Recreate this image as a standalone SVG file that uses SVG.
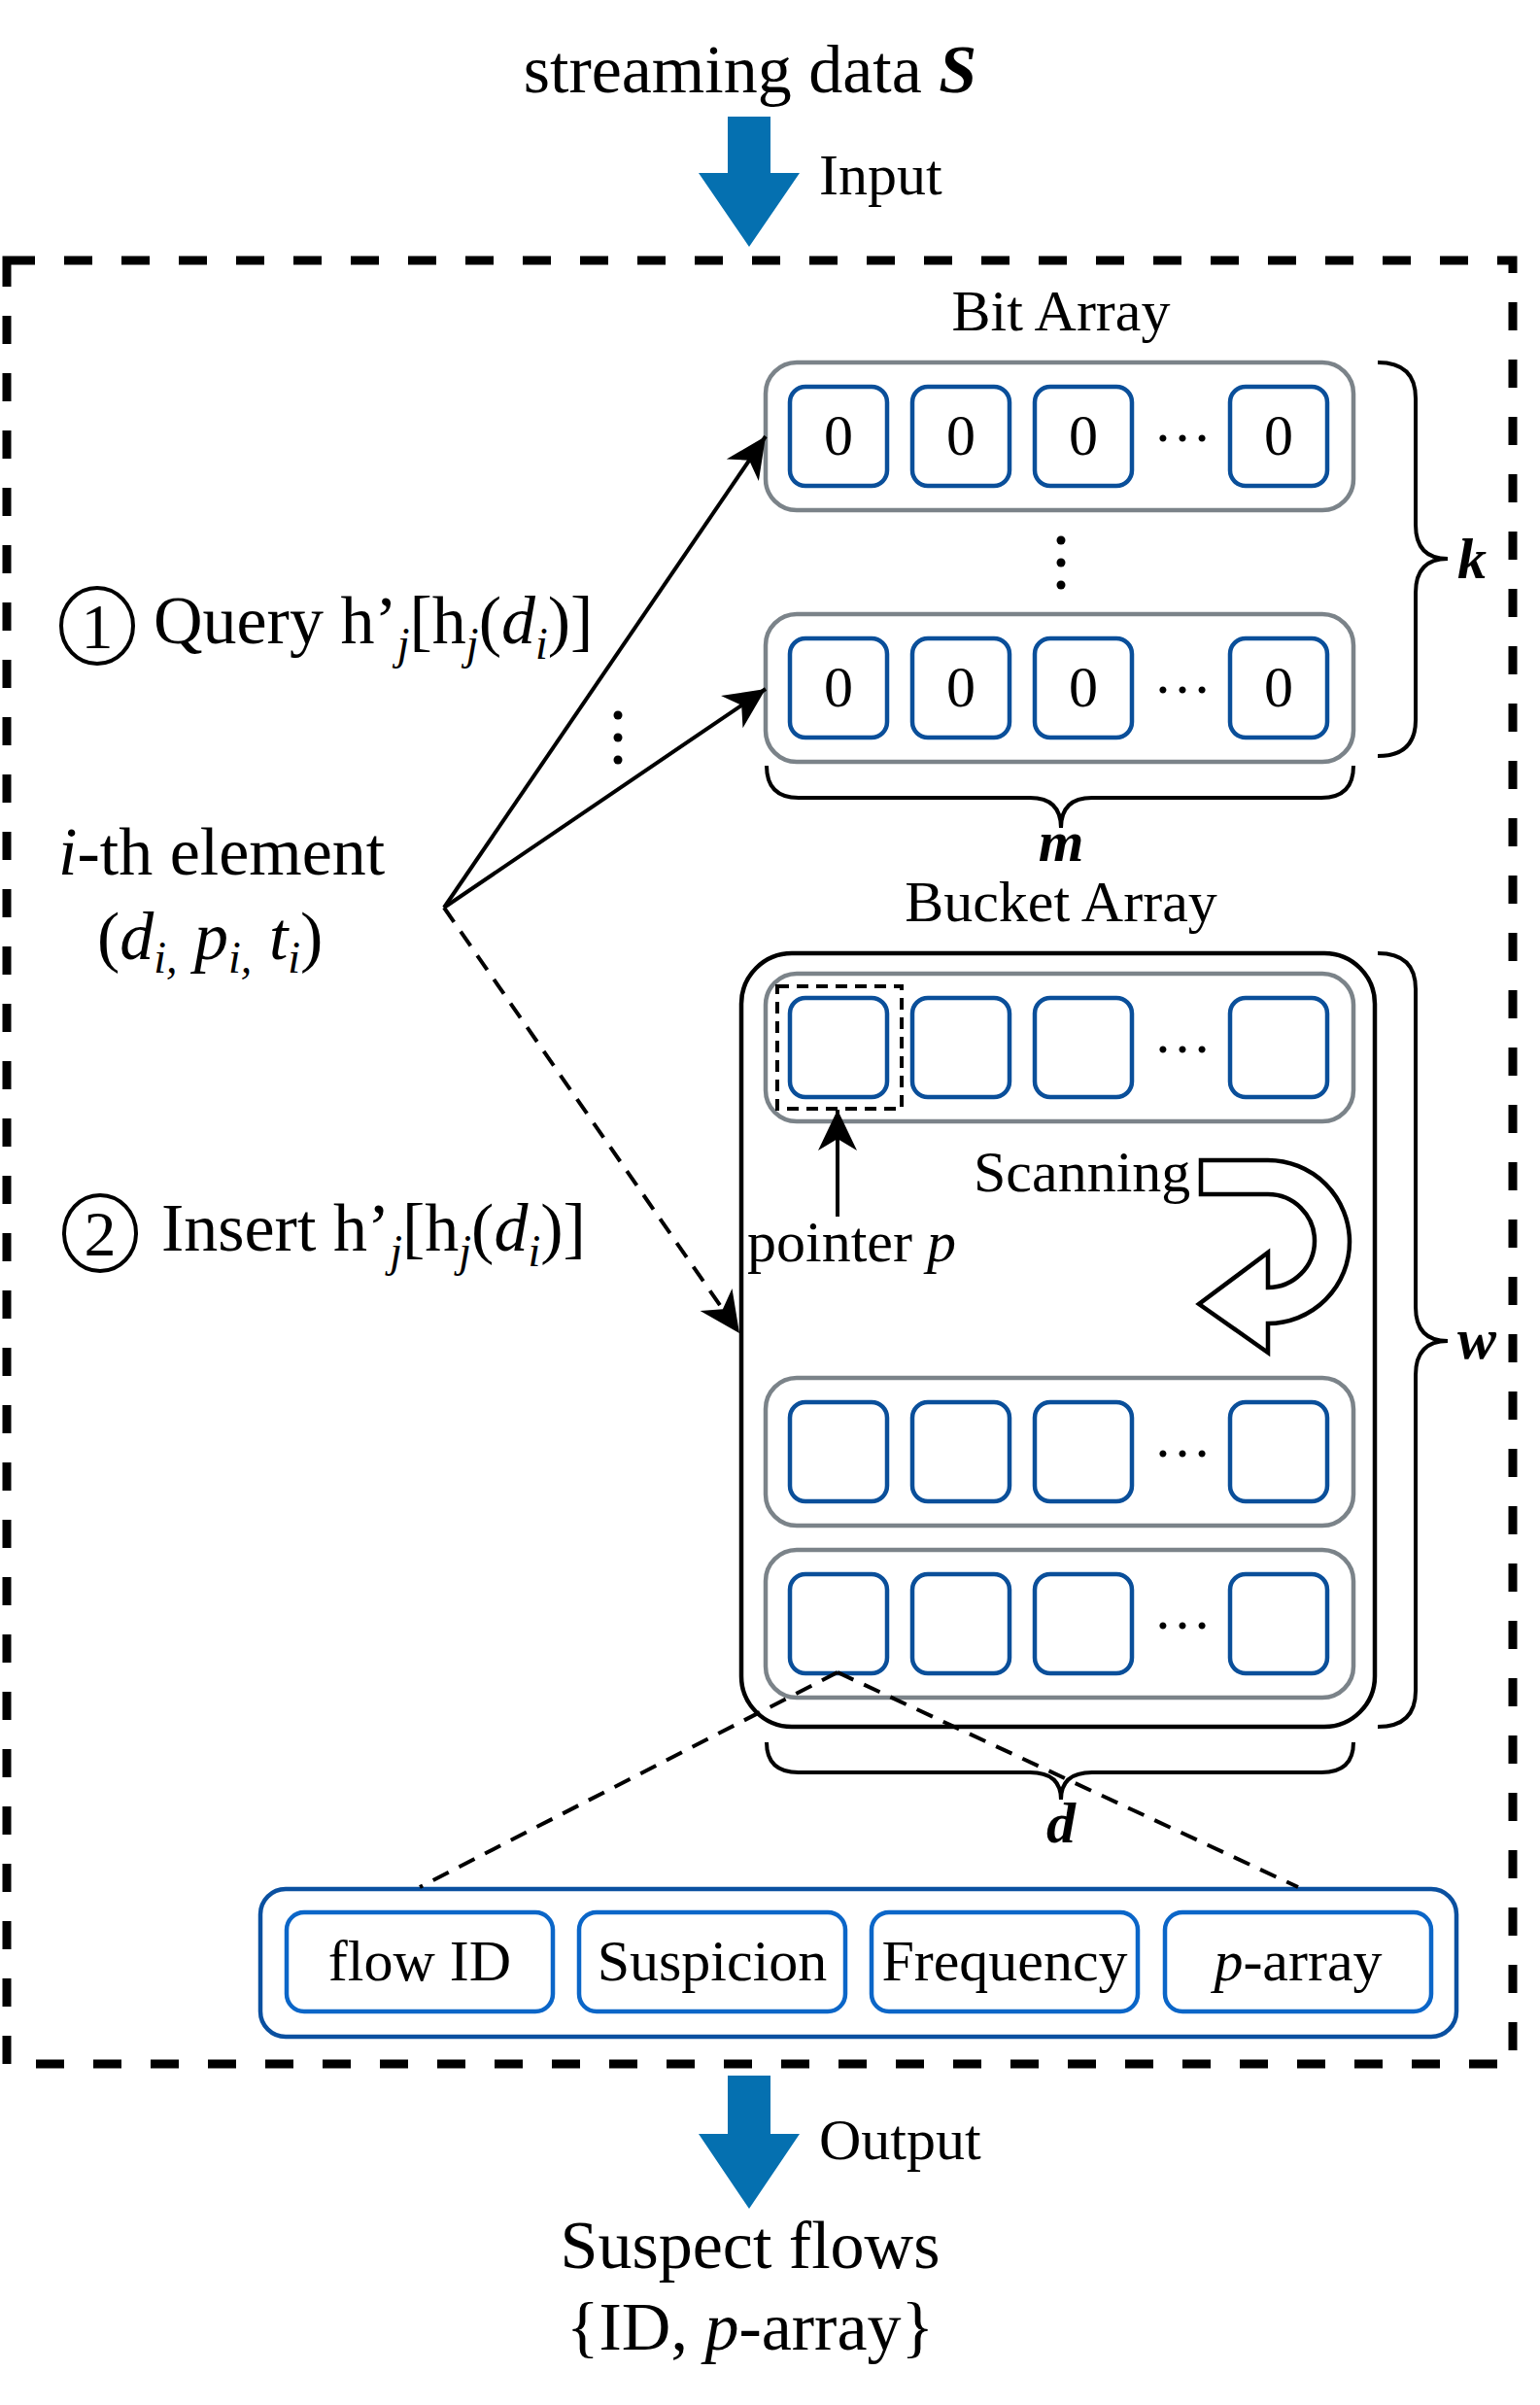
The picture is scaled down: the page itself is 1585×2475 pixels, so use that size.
<svg xmlns="http://www.w3.org/2000/svg" width="1585" height="2475" viewBox="0 0 1585 2475">
<style>
text{font-family:"Liberation Serif","Times New Roman",serif;fill:#000}
.t70{font-size:70px}
.t60{font-size:60px}
.it{font-style:italic}
.bi{font-style:italic;font-weight:bold}
.gray{fill:#fff;stroke:#7b8389;stroke-width:4.5}
.cell{fill:#fff;stroke:#0a4f9a;stroke-width:4.5}
.sout{fill:#fff;stroke:#0a50a0;stroke-width:4.5}
.sin{fill:#fff;stroke:#0b66c8;stroke-width:4.5}
.brace{fill:none;stroke:#000;stroke-width:4}
.dot{fill:#000}
.bigarrow{fill:#0570b0}
</style>
<defs>
<marker id="ah" markerUnits="userSpaceOnUse" markerWidth="44" markerHeight="44" viewBox="0 0 44 44" refX="42" refY="22" orient="auto">
<path d="M42 22 L0 2 L12 22 L0 42 Z" fill="#000"/>
</marker>
</defs>

<!-- outer dashed frame -->
<rect id="frame" x="7" y="268" width="1550" height="1856" fill="none" stroke="#000" stroke-width="9" stroke-dasharray="29 30"/>

<g id="title">
<text class="t70" x="772" y="95" text-anchor="middle">streaming data <tspan class="bi">S</tspan></text>
</g>
<g id="input-arrow">
<path class="bigarrow" d="M749 120 L793 120 L793 178 L823 178 L771 254 L719 178 L749 178 Z"/>
<text class="t60" x="843" y="200">Input</text>
</g>

<g id="labels-left">
<ellipse cx="100" cy="644" rx="37" ry="39" fill="none" stroke="#000" stroke-width="4"/>
<text x="100" y="667" font-size="66" text-anchor="middle">1</text>
<text class="t70" x="158" y="662">Query h’<tspan class="it" font-size="46" dy="16">j</tspan><tspan dy="-16">[h</tspan><tspan class="it" font-size="46" dy="16">j</tspan><tspan dy="-16">(</tspan><tspan class="it">d</tspan><tspan class="it" font-size="46" dy="16">i</tspan><tspan dy="-16">)]</tspan></text>
<text class="t70" x="60" y="900"><tspan class="it">i</tspan>-th element</text>
<text class="t70" x="100" y="987">(<tspan class="it">d</tspan><tspan class="it" font-size="46" dy="14">i,</tspan><tspan dy="-14"> </tspan><tspan class="it">p</tspan><tspan class="it" font-size="46" dy="14">i,</tspan><tspan dy="-14"> </tspan><tspan class="it">t</tspan><tspan class="it" font-size="46" dy="14">i</tspan><tspan dy="-14">)</tspan></text>
<ellipse cx="103" cy="1269" rx="37" ry="39" fill="none" stroke="#000" stroke-width="4"/>
<text x="103" y="1292" font-size="66" text-anchor="middle">2</text>
<text class="t70" x="166" y="1287">Insert h’<tspan class="it" font-size="46" dy="16">j</tspan><tspan dy="-16">[h</tspan><tspan class="it" font-size="46" dy="16">j</tspan><tspan dy="-16">(</tspan><tspan class="it">d</tspan><tspan class="it" font-size="46" dy="16">i</tspan><tspan dy="-16">)]</tspan></text>
</g>

<g id="bit-array">
<text class="t60" x="1092" y="340" text-anchor="middle">Bit Array</text>
<g id="bit-row1">
<rect class="gray" x="788" y="373" width="605" height="152" rx="32"/>
<rect class="cell" x="813" y="398" width="100" height="102" rx="16"/>
<rect class="cell" x="939" y="398" width="100" height="102" rx="16"/>
<rect class="cell" x="1065" y="398" width="100" height="102" rx="16"/>
<rect class="cell" x="1266" y="398" width="100" height="102" rx="16"/>
<text class="t60" x="863" y="468" text-anchor="middle">0</text>
<text class="t60" x="989" y="468" text-anchor="middle">0</text>
<text class="t60" x="1115" y="468" text-anchor="middle">0</text>
<text class="t60" x="1316" y="468" text-anchor="middle">0</text>
<text class="t60" x="1217" y="454" text-anchor="middle">…</text>
</g>
<circle class="dot" cx="1092" cy="556" r="4.5"/>
<circle class="dot" cx="1092" cy="579" r="4.5"/>
<circle class="dot" cx="1092" cy="602" r="4.5"/>
<g id="bit-row2">
<rect class="gray" x="788" y="632" width="605" height="152" rx="32"/>
<rect class="cell" x="813" y="657" width="100" height="102" rx="16"/>
<rect class="cell" x="939" y="657" width="100" height="102" rx="16"/>
<rect class="cell" x="1065" y="657" width="100" height="102" rx="16"/>
<rect class="cell" x="1266" y="657" width="100" height="102" rx="16"/>
<text class="t60" x="863" y="727" text-anchor="middle">0</text>
<text class="t60" x="989" y="727" text-anchor="middle">0</text>
<text class="t60" x="1115" y="727" text-anchor="middle">0</text>
<text class="t60" x="1316" y="727" text-anchor="middle">0</text>
<text class="t60" x="1217" y="713" text-anchor="middle">…</text>
</g>
<path class="brace" d="M1418 373 Q1457 373 1457 410 L1457 540 Q1457 575 1490 575 Q1457 575 1457 610 L1457 741 Q1457 778 1418 778"/>
<text class="t60 bi" x="1500" y="595">k</text>
<path class="brace" d="M789 788 Q789 821 822 821 L1060 821 Q1092 821 1092 852 Q1092 821 1124 821 L1360 821 Q1393 821 1393 788"/>
<text class="t60 bi" x="1092" y="886" text-anchor="middle">m</text>
</g>

<g id="bucket-array">
<text class="t60" x="1092" y="948" text-anchor="middle">Bucket Array</text>
<rect x="763" y="981" width="652" height="796" rx="52" fill="#fff" stroke="#000" stroke-width="4.5"/>
<g id="bucket-row1">
<rect class="gray" x="788" y="1002" width="605" height="152" rx="32"/>
<rect class="cell" x="813" y="1027" width="100" height="102" rx="16"/>
<rect class="cell" x="939" y="1027" width="100" height="102" rx="16"/>
<rect class="cell" x="1065" y="1027" width="100" height="102" rx="16"/>
<rect class="cell" x="1266" y="1027" width="100" height="102" rx="16"/>
<text class="t60" x="1217" y="1083" text-anchor="middle">…</text>
<rect x="800" y="1015" width="128" height="126" fill="none" stroke="#000" stroke-width="4" stroke-dasharray="12 8"/>
</g>
<g id="bucket-row3">
<rect class="gray" x="788" y="1418" width="605" height="152" rx="32"/>
<rect class="cell" x="813" y="1443" width="100" height="102" rx="16"/>
<rect class="cell" x="939" y="1443" width="100" height="102" rx="16"/>
<rect class="cell" x="1065" y="1443" width="100" height="102" rx="16"/>
<rect class="cell" x="1266" y="1443" width="100" height="102" rx="16"/>
<text class="t60" x="1217" y="1499" text-anchor="middle">…</text>
</g>
<g id="bucket-row4">
<rect class="gray" x="788" y="1595" width="605" height="152" rx="32"/>
<rect class="cell" x="813" y="1620" width="100" height="102" rx="16"/>
<rect class="cell" x="939" y="1620" width="100" height="102" rx="16"/>
<rect class="cell" x="1065" y="1620" width="100" height="102" rx="16"/>
<rect class="cell" x="1266" y="1620" width="100" height="102" rx="16"/>
<text class="t60" x="1217" y="1676" text-anchor="middle">…</text>
</g>
<g id="scanning">
<text class="t60" x="1002" y="1226">Scanning</text>
<path d="M1236 1194 L1305 1194 A84 84 0 0 1 1305 1362 L1305 1392 L1234 1342 L1305 1289 L1305 1325 A48 48 0 0 0 1305 1229 L1236 1229 Z" fill="#fff" stroke="#000" stroke-width="4.5" stroke-linejoin="miter"/>
</g>
<text class="t60" x="769" y="1298">pointer <tspan class="it">p</tspan></text>
<path class="brace" d="M1418 981 Q1457 981 1457 1018 L1457 1345 Q1457 1380 1490 1380 Q1457 1380 1457 1415 L1457 1740 Q1457 1777 1418 1777"/>
<text class="t60 bi" x="1500" y="1398">w</text>
<path class="brace" d="M789 1793 Q789 1824 822 1824 L1060 1824 Q1092 1824 1092 1852 Q1092 1824 1124 1824 L1360 1824 Q1393 1824 1393 1793"/>
<text class="t60 bi" x="1092" y="1896" text-anchor="middle">d</text>
</g>

<g id="bucket-struct">
<rect class="sout" x="268" y="1944" width="1231" height="152" rx="26"/>
<rect class="sin" x="295" y="1968" width="274" height="102" rx="18"/>
<rect class="sin" x="596" y="1968" width="274" height="102" rx="18"/>
<rect class="sin" x="897" y="1968" width="274" height="102" rx="18"/>
<rect class="sin" x="1199" y="1968" width="274" height="102" rx="18"/>
<text class="t60" x="432" y="2038" text-anchor="middle">flow ID</text>
<text class="t60" x="733" y="2038" text-anchor="middle">Suspicion</text>
<text class="t60" x="1034" y="2038" text-anchor="middle">Frequency</text>
<text class="t60" x="1336" y="2038" text-anchor="middle"><tspan class="it">p</tspan>-array</text>
</g>

<g id="output-arrow">
<path class="bigarrow" d="M749 2136 L793 2136 L793 2196 L823 2196 L771 2273 L719 2196 L749 2196 Z"/>
<text class="t60" x="843" y="2222">Output</text>
</g>
<g id="output">
<text class="t70" x="772" y="2334" text-anchor="middle">Suspect flows</text>
<text class="t70" x="772" y="2418" text-anchor="middle">{ID, <tspan class="it">p</tspan>-array}</text>
</g>

<g id="connectors">
<line x1="457" y1="934" x2="788" y2="449" stroke="#000" stroke-width="4" marker-end="url(#ah)"/>
<line x1="457" y1="934" x2="788" y2="709" stroke="#000" stroke-width="4" marker-end="url(#ah)"/>
<line x1="457" y1="934" x2="761" y2="1372" stroke="#000" stroke-width="4" stroke-dasharray="18 12" marker-end="url(#ah)"/>
<line x1="862" y1="1252" x2="862" y2="1142" stroke="#000" stroke-width="4" marker-end="url(#ah)"/>
<line x1="862" y1="1721" x2="432" y2="1942" stroke="#000" stroke-width="4" stroke-dasharray="18 12"/>
<line x1="862" y1="1721" x2="1336" y2="1942" stroke="#000" stroke-width="4" stroke-dasharray="18 12"/>
<circle class="dot" cx="636" cy="736" r="4.5"/>
<circle class="dot" cx="636" cy="759" r="4.5"/>
<circle class="dot" cx="636" cy="782" r="4.5"/>
</g>
</svg>
